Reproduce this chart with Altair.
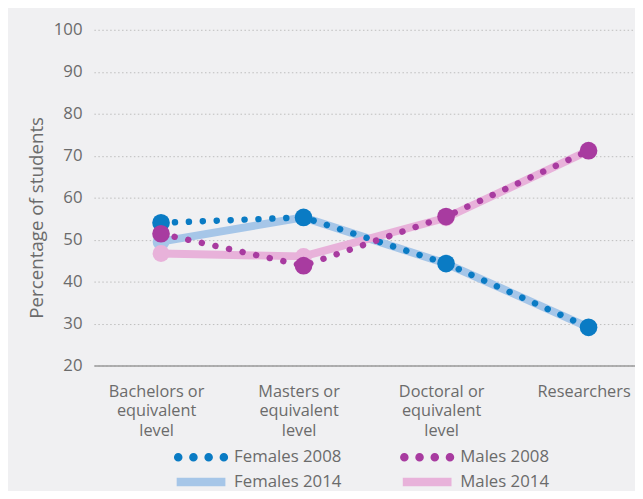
import json
import altair as alt
import pandas as pd

# ---- data ----
categories = [
    "Bachelors or equivalent level",
    "Masters or equivalent level",
    "Doctoral or equivalent level",
    "Researchers",
]
category_lines = [
    ["Bachelors or", "equivalent", "level"],
    ["Masters or", "equivalent", "level"],
    ["Doctoral or", "equivalent", "level"],
    ["Researchers"],
]
# legend fills column by column: Females in the first column, Males in the second
series_names = ["Females 2008", "Females 2014", "Males 2008", "Males 2014"]
females_2008 = [54.0, 55.3, 44.3, 29.1]
females_2014 = [49.5, 55.3, 44.3, 29.1]
males_2008 = [51.4, 43.8, 55.5, 71.2]
males_2014 = [46.7, 46.0, 55.2, 71.2]
y_ticks = [20, 30, 40, 50, 60, 70, 80, 90, 100]

series_values = {
    "Females 2008": females_2008,
    "Females 2014": females_2014,
    "Males 2008": males_2008,
    "Males 2014": males_2014,
}

rows = []
for s in series_names:
    for i, v in enumerate(series_values[s]):
        rows.append({"idx": i, "level": categories[i], "series": s, "year": s[-4:], "value": v})
df = pd.DataFrame(rows)

series_colors = ["#0a7bc4", "#a6c6e8", "#a83ba0", "#e8b2da"]
text_color = "#6b6b6b"
FONT = "Open Sans"

# legend symbol shapes (unit square paths)
def circ(cx, r):
    return f"M{cx - r},0A{r},{r} 0 1 0 {cx + r},0A{r},{r} 0 1 0 {cx - r},0Z"

dots_path = " ".join(circ(c, 0.13) for c in [-0.84, -0.28, 0.28, 0.84])
bar_path = "M-0.87,-0.13L0.87,-0.13L0.87,0.13L-0.87,0.13Z"

color_scale = alt.Scale(domain=series_names, range=series_colors)
shape_scale = alt.Scale(domain=series_names, range=[dots_path, bar_path, dots_path, bar_path])

x_enc = alt.X(
    "idx:Q",
    scale=alt.Scale(domain=[-0.471, 3.326], nice=False, zero=False),
    axis=alt.Axis(
        values=[0, 1, 2, 3],
        labelExpr=json.dumps(category_lines) + "[datum.value]",
        title=None,
        grid=False,
        ticks=False,
        domainColor="#9a9a9a",
        domainWidth=1.6,
        labelPadding=18,
        labelBaseline="top",
        labelLineHeight=20,
        labelAngle=0,
        labelAlign="center",
        labelFlush=False,
        labelOverlap=False,
        labelOffset=-5,
        labelFontSize=16.5,
    ),
)
y_enc = alt.Y(
    "value:Q",
    scale=alt.Scale(domain=[20, 100], nice=False, zero=False),
    axis=alt.Axis(
        values=y_ticks,
        title="Percentage of students",
        grid=True,
        gridDash=[1.5, 2.5],
        gridColor="#bdbdbd",
        gridWidth=1,
        ticks=False,
        domain=False,
        labelPadding=12,
        labelFontSize=17,
        titlePadding=7,
        titleY=190,
        titleFontSize=19,
    ),
)

legend = alt.Legend(
    title=None,
    orient="none",
    legendX=80,
    legendY=423,
    columns=2,
    symbolSize=3025,
    clipHeight=20,
    rowPadding=5,
    columnPadding=58,
    labelOffset=5,
    symbolOpacity=1,
    padding=0,
)

base = alt.Chart(df)
c_plain = alt.Color("series:N", scale=color_scale, legend=legend)

leg = base.mark_point(filled=True, opacity=0).encode(
    x=x_enc,
    y=y_enc,
    color=alt.Color("series:N", scale=color_scale, legend=legend),
    shape=alt.Shape("series:N", scale=shape_scale, legend=legend),
)
l14 = base.transform_filter(alt.datum.year == "2014").mark_line(
    strokeWidth=8, strokeCap="round"
).encode(x=x_enc, y=y_enc, color=c_plain)
p14 = base.transform_filter(alt.datum.year == "2014").mark_circle(
    size=290, opacity=1
).encode(x=x_enc, y=y_enc, color=c_plain)
l08 = base.transform_filter(alt.datum.year == "2008").mark_line(
    strokeWidth=6.5, strokeDash=[0.1, 14], strokeCap="round"
).encode(x=x_enc, y=y_enc, color=c_plain)
p08 = base.transform_filter(alt.datum.year == "2008").mark_circle(
    size=320, opacity=1
).encode(x=x_enc, y=y_enc, color=c_plain)

chart = (
    alt.layer(leg, l14, p14, l08, p08)
    .properties(
        width=548,
        height=340,
        padding={"left": 87, "top": 19, "right": 0, "bottom": 124},
        autosize=alt.AutoSizeParams(type="none"),
        background="#f0f0f2",
    )
    .configure(font=FONT)
    .configure_view(stroke=None)
    .configure_axis(
        labelFont=FONT,
        labelColor=text_color,
        titleFont=FONT,
        titleFontWeight="normal",
        titleColor=text_color,
    )
    .configure_legend(
        labelFont=FONT,
        labelFontSize=17,
        labelColor=text_color,
    )
)

chart.save("out.html", embed_options={"renderer": "svg", "actions": False})
